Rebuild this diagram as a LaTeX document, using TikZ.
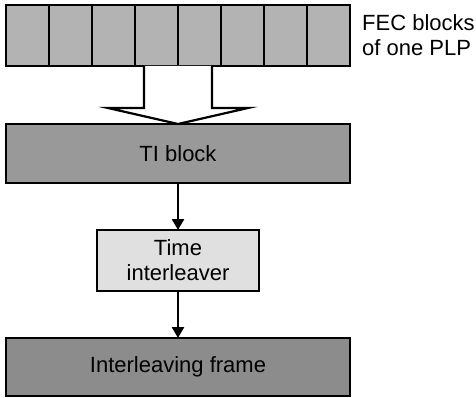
\documentclass[tikz,border=0pt]{standalone}
\usepackage{fontspec}
\setmainfont{Liberation Sans}
\usepackage{xcolor}
\usepackage{tikz}
\usetikzlibrary{arrows.meta,positioning,calc}
\definecolor{fecgray}{HTML}{B3B3B3}
\definecolor{tigray}{HTML}{999999}
\definecolor{tilgray}{HTML}{E0E0E0}
\definecolor{framegray}{HTML}{8C8C8C}
\tikzset{
  fecblock/.style={draw=black, line width=2.2pt, fill=fecgray, minimum width=43pt,
    minimum height=61pt, inner sep=0pt, outer sep=0pt},
  bigblock/.style={draw=black, line width=2.2pt, minimum width=344pt, minimum height=59pt,
    inner sep=0pt, outer sep=0pt, align=center, font=\fontsize{22}{25}\selectfont},
  flowarrow/.style={-{Triangle[width=12pt,length=11pt]}, line width=2.6pt, draw=black},
  hollowarrow/.style={draw=black, line width=2.2pt, fill=white, line join=miter},
  smallnote/.style={font=\fontsize{22}{25}\selectfont, align=left, inner sep=0pt}
}
\begin{document}
\begin{tikzpicture}[x=1pt, y=1pt]
    \useasboundingbox (0,0) rectangle (476,-398);
    % FEC blocks of one PLP
    \foreach \i in {1,...,8} {
        \node[fecblock] (fec\i) at ({6+43*\i-21.5},-35.5) {};
    }
    \node[smallnote, right=12pt of fec8] (feclabel) {FEC blocks\\of one PLP};

    \node[bigblock, fill=tigray] (ti) at (178,-153.5) {TI block};
    \node[bigblock, fill=tilgray, minimum width=162pt, minimum height=61pt] (til) at (178,-260.5) {Time\\interleaver};
    \node[bigblock, fill=framegray, minimum height=58pt] (frame) at (178,-367) {Interleaving frame};

    % hollow arrow from the FEC blocks into the TI block
    \coordinate (fecbot) at (fec4.south east);
    \draw[hollowarrow] ($(fecbot)+(-34,0)$) -- ++(0,-42) -- ++(-36,0)
        -- (ti.north) -- ($(fecbot)+(70,-42)$) -- ++(-36,0) -- ($(fecbot)+(34,0)$);

    \draw[flowarrow] (ti) -- (til);
    \draw[flowarrow] (til) -- (frame);
\end{tikzpicture}
\end{document}
